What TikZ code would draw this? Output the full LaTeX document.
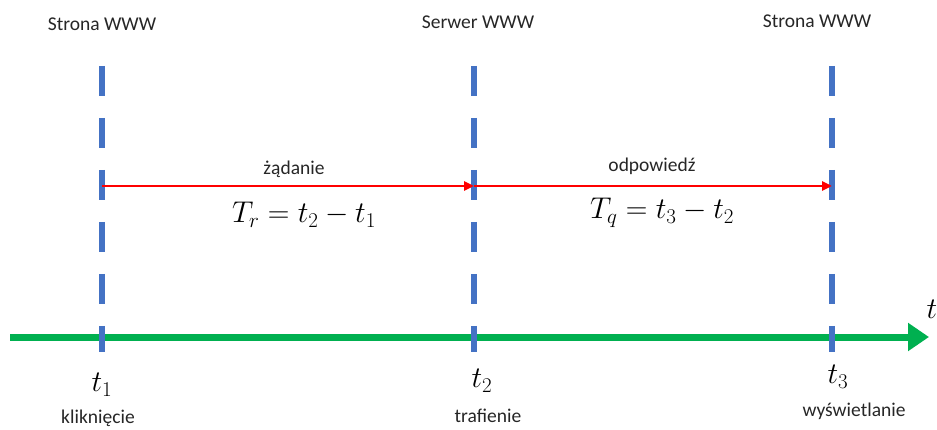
\RequirePackage{fix-cm}
\documentclass[tikz,border=0pt]{standalone}
\usepackage{fontspec}
\setmainfont{Carlito}
\usetikzlibrary{arrows.meta}
\definecolor{markblue}{HTML}{4472C4}
\definecolor{axisgreen}{HTML}{00B050}
\definecolor{labelgray}{HTML}{262626}
\begin{document}
\begin{tikzpicture}[x=1pt,y=-1pt,
  lbl/.style={font=\fontsize{19.5}{21}\selectfont, text=labelgray, inner sep=0pt},
  mathlbl/.style={font=\fontsize{30}{32}\selectfont, inner sep=0pt},
  marker/.style={draw=markblue, line width=6pt, dash pattern=on 30pt off 22pt},
  msg/.style={draw=red, line width=2.6pt, -{Triangle[length=10pt,width=9pt]}},
  axis/.style={draw=axisgreen, line width=7pt, -{Triangle[length=21pt,width=27pt]}}]
\useasboundingbox (0,0) rectangle (937,430);

% time axis
\coordinate (axstart) at (10,337);
\coordinate (axend) at (929,337);
\draw[axis] (axstart) -- (axend);
\node[mathlbl] (tlabel) at (932,309) {$t$};

% vertical event markers
\coordinate (top1) at (102,66);  \coordinate (bot1) at (102,352);
\coordinate (top2) at (474,66);  \coordinate (bot2) at (474,352);
\coordinate (top3) at (832,66);  \coordinate (bot3) at (832,352);
\draw[marker] (top1) -- (bot1);
\draw[marker] (top2) -- (bot2);
\draw[marker] (top3) -- (bot3);

% messages
\coordinate (m1) at (102,186);
\coordinate (m2) at (474,186);
\coordinate (m3) at (832,186);
\draw[msg] (m1) -- (m2);
\draw[msg] (m2) -- (m3);

% headers
\node[lbl] (h1) at (102,24) {Strona WWW};
\node[lbl] (h2) at (478,22) {Serwer WWW};
\node[lbl] (h3) at (817,21) {Strona WWW};

% message labels and formulas
\node[lbl] (req) at (294,169) {żądanie};
\node[lbl] (resp) at (652,166) {odpowiedź};
\node[mathlbl] (tr) at (304,215) {$T_r = t_2 - t_1$};
\node[mathlbl] (tq) at (662,213) {$T_q = t_3 - t_2$};

% time points
\node[mathlbl] (t1) at (102,385) {$t_1$};
\node[mathlbl] (t2) at (482,381) {$t_2$};
\node[mathlbl] (t3) at (838,377) {$t_3$};
\node[lbl] (e1) at (98,418) {kliknięcie};
\node[lbl] (e2) at (488,416) {trafienie};
\node[lbl] (e3) at (854,411) {wyświetlanie};
\end{tikzpicture}
\end{document}
